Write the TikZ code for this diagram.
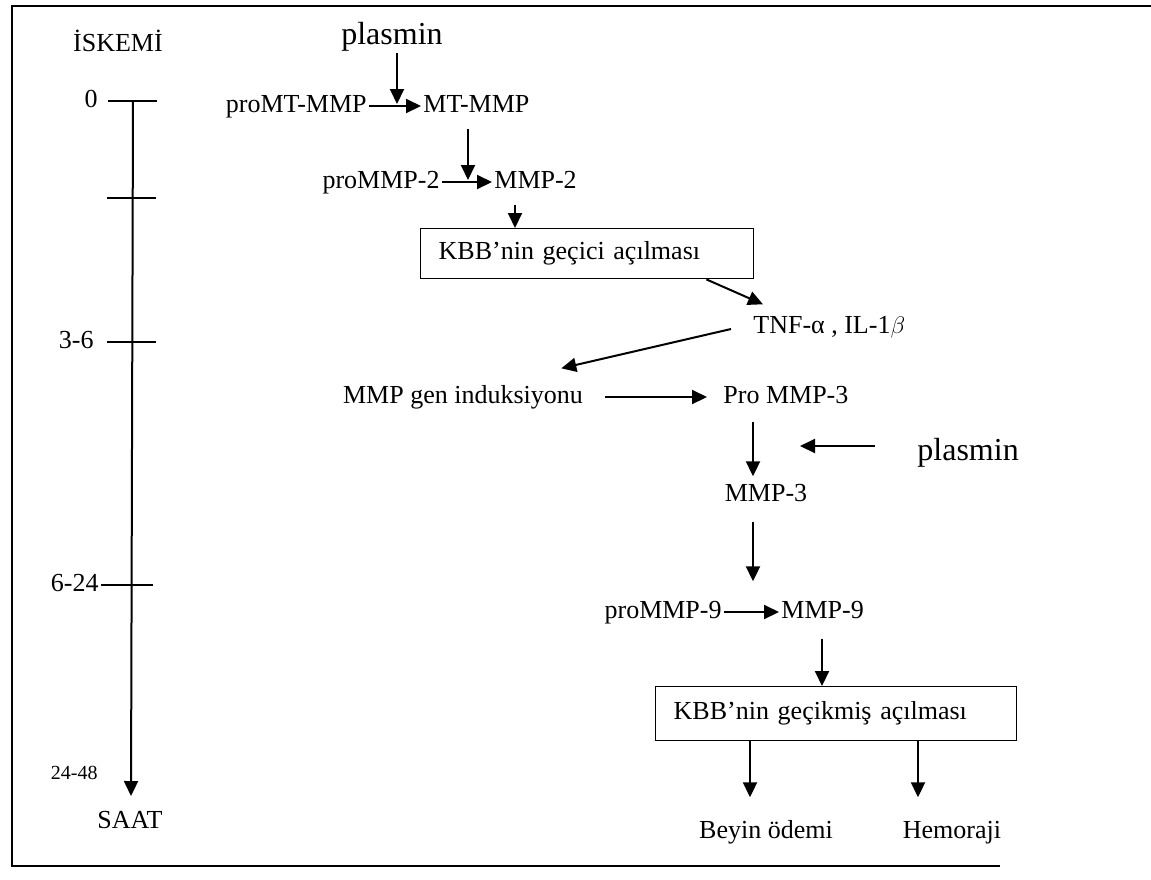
\documentclass[tikz,border=0pt]{standalone}
\usepackage{fontspec}
\setmainfont{Liberation Serif}
\usepackage{tikz}
\usetikzlibrary{positioning, arrows.meta}

\tikzset{
  txt/.style={inner sep=1pt, text height=9.4pt, text depth=2.9pt, font=\fontsize{13}{15}\selectfont},
  bigtxt/.style={inner sep=1pt, text height=11.5pt, text depth=3.5pt, font=\fontsize{16}{18}\selectfont},
  smalltxt/.style={inner sep=1pt, font=\fontsize{10}{12}\selectfont},
  stagebox/.style={draw, line width=0.7pt, inner xsep=9pt, align=left, anchor=north west, font=\fontsize{13}{15}\selectfont},
  arr/.style={line width=1pt, -{Triangle[length=7.5pt, width=7pt]}},
  tickline/.style={line width=0.9pt},
  framel/.style={line width=1pt}
}

\begin{document}
\begin{tikzpicture}[x=0.5pt, y=-0.5pt]
\useasboundingbox (0,0) rectangle (1151,879);
\draw[framel] (1151,6) -- (12,6) -- (12,866) -- (1000,866); % open frame

% time axis
\node[txt] (iskemi) at (118,45) {İSKEMİ};
\coordinate (t0) at (133,101);
\coordinate (t1) at (132,198);
\coordinate (t2) at (132,342);
\coordinate (t3) at (131,585);
\coordinate (tend) at (131,796);
\draw[arr] (t0) -- (tend);
\foreach \c in {t0,t1,t2}{\draw[tickline] (\c) ++(-25,0) -- ++(49,0);}
\draw[tickline] (t3) ++(-30,0) -- ++(52,0);
\node[txt, anchor=east] (h0) at (100,101) {0};
\node[txt, anchor=east] (h36) at (96,342) {3-6};
\node[txt, anchor=east] (h624) at (101,585) {6-24};
\node[smalltxt, anchor=east] (h2448) at (100,773) {24-48};
\node[txt] (saat) at (130,822) {SAAT};

% early activation
\node[bigtxt] (plasminA) at (392,36) {plasmin};
\node[txt, anchor=east] (proMT) at (369,106) {proMT-MMP};
\node[txt, anchor=west] (MT) at (421,106) {MT-MMP};
\draw[arr] (proMT) -- (MT);
\coordinate (pA) at (397,104);
\draw[arr] (plasminA.south -| pA) -- (pA); % plasmin onto proMT-MMP
\node[txt, anchor=east] (proM2) at (442,182) {proMMP-2};
\node[txt, anchor=west] (M2) at (492,182) {MMP-2};
\draw[arr] (proM2) -- (M2);
\coordinate (pB) at (468,180);
\draw[arr, shorten <=4pt] (MT.south -| pB) -- (pB);
\node[stagebox, text width=148.5pt, minimum height=25pt] (kbb1) at (420,228) {KBB’nin geçici açılması};
\coordinate (pC) at (515,228);
\draw[arr, shorten <=4pt] (M2.south -| pC) -- (pC);

% cytokines and MMP-3
\node[txt, anchor=west] (tnf) at (751,327) {TNF-α , IL-1$\beta$};
\draw[arr] ([xshift=-24pt]kbb1.south east) -- ([shift={(6pt,4pt)}]tnf.north west);
\node[txt] (gen) at (463,397) {MMP gen induksiyonu};
\draw[arr] ([shift={(-10pt,-1pt)}]tnf.west) -- ([shift={(-12pt,7pt)}]gen.north east);
\node[txt, anchor=west] (proM3) at (721,397) {Pro MMP-3};
\draw[arr] ([xshift=10pt]gen.east) -- ([xshift=-7pt]proM3.west);
\node[txt] (M3) at (766,495) {MMP-3};
\coordinate (xE) at (753,0);
\draw[arr, shorten <=5pt] (proM3.south -| xE) -- ([yshift=2pt]M3.north -| xE);
\node[bigtxt, anchor=west] (plasminB) at (915,452) {plasmin};
\coordinate (xF) at (800,0);
\draw[arr, shorten <=20pt] ([yshift=3pt]plasminB.west) -- ([yshift=3pt]plasminB.west -| xF);

% late opening
\node[txt, anchor=east] (proM9) at (724,612) {proMMP-9};
\node[txt, anchor=west] (M9) at (779,612) {MMP-9};
\draw[arr] (proM9) -- (M9);
\draw[arr, shorten <=6pt] (M3.south -| xE) -- ([yshift=8pt]M9.north -| xE);
\node[stagebox, text width=162.5pt, minimum height=27pt] (kbb2) at (655,686) {KBB’nin geçikmiş açılması};
\coordinate (xG) at (822,0);
\draw[arr, shorten <=6pt] (M9.south -| xG) -- (kbb2.north -| xG);
\node[txt] (odem) at (766,832) {Beyin ödemi};
\node[txt] (hemo) at (952,832) {Hemoraji};
\coordinate (xH) at (750,0);
\coordinate (xI) at (918,0);
\draw[arr] (kbb2.south -| xH) -- ([yshift=10pt]odem.north -| xH);
\draw[arr] (kbb2.south -| xI) -- ([yshift=10pt]hemo.north -| xI);
\end{tikzpicture}
\end{document}
